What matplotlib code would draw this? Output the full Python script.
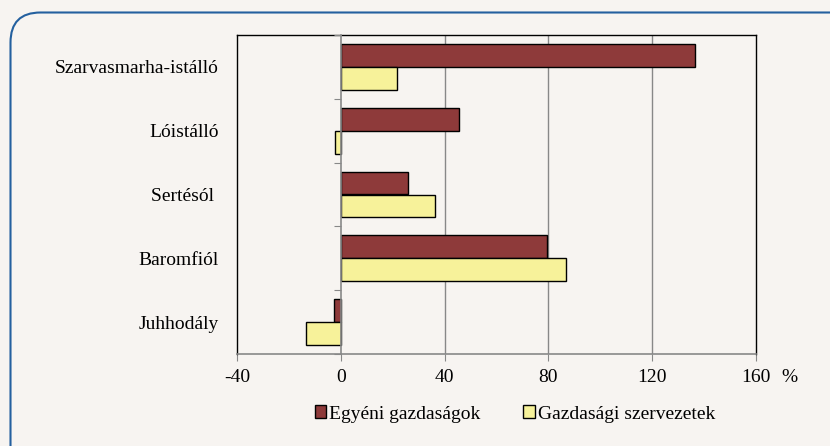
import matplotlib.pyplot as plt
import numpy as np
from matplotlib.patches import FancyBboxPatch, Patch

categories = ['Szarvasmarha-istálló', 'Lóistálló', 'Sertésól ', 'Baromfiól', 'Juhhodály']
egyeni = [136.4, 45.6, 25.8, 79.6, -2.7]
szervezet = [21.5, -2.4, 36.3, 86.8, -13.3]
xticks = [-40, 0, 40, 80, 120, 160]

bg = '#F7F4F1'
red = '#8E3A3A'
yellow = '#F7F29A'
fs = 14

plt.rcParams['font.family'] = ['Liberation Serif', 'DejaVu Serif']

fig = plt.figure(figsize=(8.3, 4.46), dpi=100, facecolor=bg)
ax = fig.add_axes([237 / 830, 1 - 354 / 446, (756 - 237) / 830, (354 - 35) / 446])
ax.set_facecolor(bg)

y = np.arange(len(categories))
h = 0.36
ax.barh(y - h / 2, egyeni, height=h, color=red, edgecolor='black', linewidth=1, zorder=3)
ax.barh(y + h / 2, szervezet, height=h, color=yellow, edgecolor='black', linewidth=1, zorder=3)

ax.set_xlim(-40, 160)
ax.set_ylim(len(categories) - 0.5, -0.5)
ax.set_xticks(xticks)
ax.set_xticklabels([str(t) for t in xticks], fontsize=fs)
ax.tick_params(axis='x', direction='out', length=5, color='#888888', pad=6)

for t in xticks[2:-1]:
    ax.axvline(t, color='#888888', linewidth=1, zorder=1)

ax.set_yticks(y)
ax.set_yticklabels(categories, fontsize=fs)
ax.tick_params(axis='y', length=0, pad=13)

for s in ['left', 'top', 'right']:
    ax.spines[s].set_color('black')
    ax.spines[s].set_linewidth(1)
ax.spines['bottom'].set_color('#888888')
ax.spines['bottom'].set_linewidth(1.2)

# zero line with category boundary ticks
sec = ax.secondary_yaxis((0 - xticks[0]) / (xticks[-1] - xticks[0]))
sec.set_yticks(np.arange(len(categories) + 1) - 0.5)
sec.set_yticklabels([])
sec.tick_params(length=5, color='#888888', direction='out')
sec.spines['left'].set_color('#888888')
sec.spines['left'].set_linewidth(1.2)
sec.set_zorder(4)

fig.text(789 / 830, 1 - 378 / 446, '%', fontsize=fs, ha='center', va='center')

handles = [Patch(facecolor=red, edgecolor='black', label='Egyéni gazdaságok'),
           Patch(facecolor=yellow, edgecolor='black', label='Gazdasági szervezetek')]
fig.legend(handles=handles, loc='center', bbox_to_anchor=(515 / 830, 1 - 414 / 446),
           ncol=2, frameon=False, fontsize=fs, handlelength=0.6, handleheight=0.6,
           handletextpad=0.15, columnspacing=2.2)

frame = FancyBboxPatch((10.5, -40), 880, 446 - 12.5 + 40, boxstyle='round,pad=0,rounding_size=30',
                       transform=None, facecolor='none', edgecolor='#24609F', linewidth=1.5)
fig.patches.append(frame)

fig.savefig('out.png', dpi=100, facecolor=bg)
